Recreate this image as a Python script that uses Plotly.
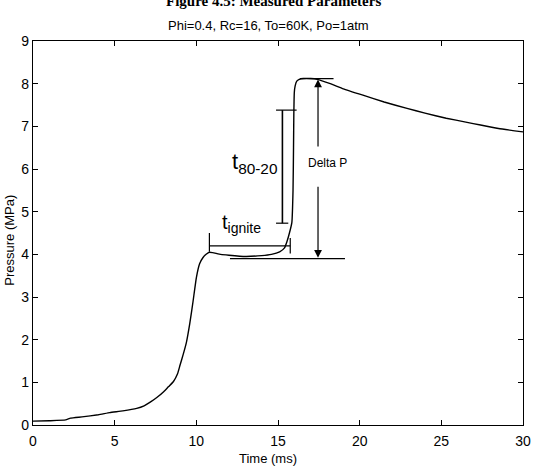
import plotly.graph_objects as go

# Measured pressure trace
time_ms = [0, 1, 2, 2.3, 3, 4, 4.7, 5.5, 6.35, 6.8, 7.2, 7.6, 8.0, 8.3, 8.6, 8.85, 9.0, 9.2,
           9.4, 9.6, 9.8, 10.0, 10.2, 10.4, 10.6, 10.8, 11.0, 11.5, 12.0, 13.0, 14.0, 14.6,
           15.1, 15.4, 15.55, 15.7, 15.85, 15.92, 15.95, 15.97, 16.0, 16.05, 16.15, 16.3,
           16.55, 17.0, 17.4, 18.2, 19.0, 20.2, 21.5, 22.9, 24.0, 25.3, 26.5, 27.4, 28.5, 30.0]
pressure = [0.09, 0.10, 0.12, 0.16, 0.19, 0.24, 0.29, 0.33, 0.39, 0.45, 0.54, 0.65, 0.78,
            0.90, 1.02, 1.20, 1.40, 1.66, 1.95, 2.38, 2.90, 3.45, 3.78, 3.92, 4.00, 4.05,
            4.04, 4.00, 3.98, 3.95, 3.97, 4.00, 4.06, 4.15, 4.30, 4.50, 4.75, 5.50, 6.50,
            7.30, 7.80, 7.95, 8.06, 8.10, 8.12, 8.12, 8.10, 8.00, 7.88, 7.73, 7.57, 7.42,
            7.31, 7.19, 7.10, 7.03, 6.95, 6.87]

# Annotation markers (data coordinates)
t8020_top = [14.88, 16.14, 7.38]      # x0, x1, y
t8020_bot = [14.88, 15.63, 4.73]
t8020_vx = 15.27
tign_bar = [10.8, 15.75, 4.20]        # x0, x1, y
tign_left = [10.8, 4.06, 4.50]        # x, y0, y1
tign_right = [15.75, 4.02, 4.38]
dp_base = [12.06, 19.1, 3.90]         # baseline x0, x1, y
dp_top = [16.35, 18.4, 8.12]          # top line x0, x1, y
dp_x = 17.45
dp_up = [6.49, 8.10]                  # tail, head
dp_down = [5.62, 3.92]

xticks = [0, 5, 10, 15, 20, 25, 30]
yticks = [0, 1, 2, 3, 4, 5, 6, 7, 8, 9]

fig = go.Figure()
fig.add_trace(go.Scatter(x=time_ms, y=pressure, mode="lines",
                         line=dict(color="black", width=1.4, shape="spline", smoothing=0.4),
                         showlegend=False))

def seg(xs, ys, w=1.2):
    fig.add_trace(go.Scatter(x=xs, y=ys, mode="lines",
                             line=dict(color="black", width=w), showlegend=False,
                             hoverinfo="skip"))

seg([t8020_top[0], t8020_top[1]], [t8020_top[2], t8020_top[2]])
seg([t8020_bot[0], t8020_bot[1]], [t8020_bot[2], t8020_bot[2]])
seg([t8020_vx, t8020_vx], [t8020_bot[2], t8020_top[2]], 1.6)
seg([tign_bar[0], tign_bar[1]], [tign_bar[2], tign_bar[2]])
seg([tign_left[0], tign_left[0]], [tign_left[1], tign_left[2]])
seg([tign_right[0], tign_right[0]], [tign_right[1], tign_right[2]])
seg([dp_base[0], dp_base[1]], [dp_base[2], dp_base[2]])
seg([dp_top[0], dp_top[1]], [dp_top[2], dp_top[2]])

for tail, head in [dp_up, dp_down]:
    fig.add_annotation(x=dp_x, y=head, ax=dp_x, ay=tail, xref="x", yref="y",
                       axref="x", ayref="y", text="", showarrow=True,
                       arrowhead=2, arrowsize=1.3, arrowwidth=1.2, arrowcolor="black")

sans = "Liberation Sans, Arial, sans-serif"
fig.add_annotation(x=18.0, y=6.13, xref="x", yref="y", text="Delta P", showarrow=False,
                   font=dict(family=sans, size=12, color="black"))
fig.add_annotation(x=13.6, y=6.15, xref="x", yref="y", text="t<sub>80-20</sub>",
                   showarrow=False, font=dict(family=sans, size=22, color="black"))
fig.add_annotation(x=12.74, y=4.72, xref="x", yref="y", text="t<sub>ignite</sub>",
                   showarrow=False, font=dict(family=sans, size=20, color="black"))

# Titles
fig.add_annotation(x=0.49, y=1, xref="paper", yref="paper", yshift=40, yanchor="middle",
                   text="<b>Figure 4.5: Measured Parameters</b>", showarrow=False,
                   font=dict(family="Liberation Serif, Times New Roman, serif", size=15,
                             color="black"))
fig.add_annotation(x=0.48, y=1, xref="paper", yref="paper", yshift=16, yanchor="middle",
                   text="Phi=0.4, Rc=16, To=60K, Po=1atm", showarrow=False,
                   font=dict(family=sans, size=13, color="black"))
fig.add_annotation(x=0.48, y=0, xref="paper", yref="paper", yshift=-33, yanchor="middle",
                   text="Time (ms)", showarrow=False,
                   font=dict(family=sans, size=13, color="black"))
fig.add_annotation(x=0, y=0.48, xref="paper", yref="paper", xshift=-23, xanchor="center",
                   text="Pressure (MPa)", showarrow=False, textangle=-90,
                   font=dict(family=sans, size=13, color="black"))

axis_common = dict(showline=True, linecolor="black", linewidth=1.2, mirror="ticks",
                   ticks="inside", ticklen=5, tickwidth=1, tickcolor="black",
                   showgrid=False, zeroline=False, automargin=False,
                   tickfont=dict(family=sans, size=14, color="black"))
fig.update_xaxes(range=[0, 30], tickvals=xticks, ticktext=[str(v) for v in xticks],
                 ticklabelstandoff=3, **axis_common)
fig.update_yaxes(range=[0, 9], tickvals=yticks, ticktext=[str(v) for v in yticks],
                 **axis_common)
fig.update_layout(width=533, height=471, margin=dict(l=33, r=10, t=41, b=46),
                  plot_bgcolor="white", paper_bgcolor="white")

fig.write_html("out.html")
